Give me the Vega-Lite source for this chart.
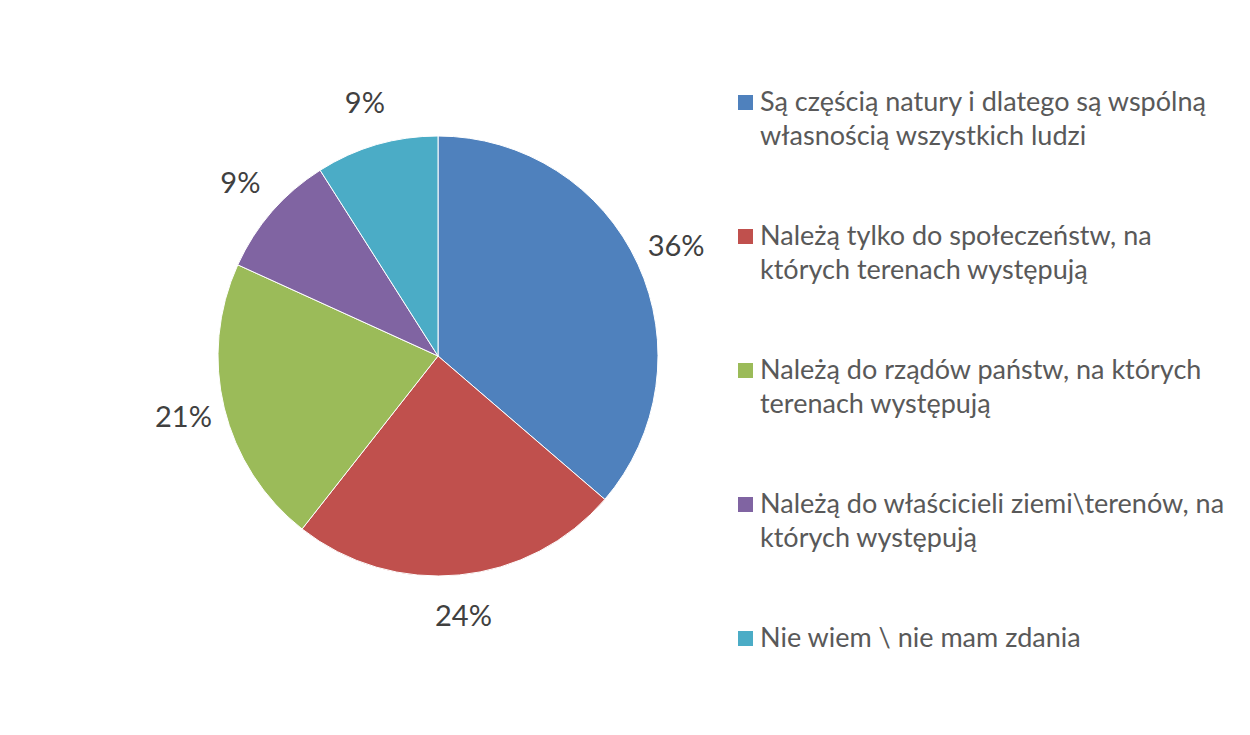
{
  "$schema": "https://vega.github.io/schema/vega-lite/v6.json",
  "autosize": {"type": "none"},
  "width": 862,
  "height": 694,
  "padding": {"left": 7, "top": 9, "right": 381, "bottom": 32},
  "background": "white",
  "config": {"view": {"stroke": null}, "font": "Lato", "style": {"guide-label": {"lineHeight": 34}}},
  "data": {
    "values": [
      {"kategoria": "Są częścią natury i dlatego są wspólną|własnością wszystkich ludzi", "procent": 36.3, "etykieta": "36%", "kolejnosc": 1},
      {"kategoria": "Należą tylko do społeczeństw, na|których terenach występują", "procent": 24.3, "etykieta": "24%", "kolejnosc": 2},
      {"kategoria": "Należą do rządów państw, na których|terenach występują", "procent": 21.2, "etykieta": "21%", "kolejnosc": 3},
      {"kategoria": "Należą do właścicieli ziemi\\terenów, na|których występują", "procent": 9.2, "etykieta": "9%", "kolejnosc": 4},
      {"kategoria": "Nie wiem \\ nie mam zdania", "procent": 9.0, "etykieta": "9%", "kolejnosc": 5}
    ]
  },
  "encoding": {
    "theta": {"field": "procent", "type": "quantitative", "stack": true},
    "order": {"field": "kolejnosc", "type": "quantitative"}
  },
  "layer": [
    {
      "mark": {"type": "arc", "outerRadius": 220, "stroke": "white", "strokeWidth": 1},
      "encoding": {
        "color": {
          "field": "kategoria",
          "type": "nominal",
          "sort": null,
          "scale": {
            "domain": [
              "Są częścią natury i dlatego są wspólną|własnością wszystkich ludzi",
              "Należą tylko do społeczeństw, na|których terenach występują",
              "Należą do rządów państw, na których|terenach występują",
              "Należą do właścicieli ziemi\\terenów, na|których występują",
              "Nie wiem \\ nie mam zdania"
            ],
            "range": ["#4F81BD", "#C0504D", "#9BBB59", "#8064A2", "#4BACC6"]
          },
          "legend": {
            "orient": "none",
            "legendX": 725,
            "legendY": 80,
            "title": null,
            "padding": 0,
            "symbolType": "square",
            "symbolSize": 225,
            "symbolStrokeWidth": 0,
            "labelFont": "Lato",
            "labelFontSize": 27,
            "labelColor": "#595959",
            "labelLimit": 0,
            "labelOffset": 1,
            "labelExpr": "split(datum.label, '|')",
            "rowPadding": 72
          }
        }
      }
    },
    {
      "mark": {"type": "text", "radius": 262, "fontSize": 29, "color": "#404040", "font": "Lato"},
      "encoding": {"text": {"field": "etykieta"}}
    }
  ],
  "title": {
    "text": "Podstawa: N=1000.",
    "anchor": "start",
    "orient": "top",
    "offset": 4,
    "dx": -7,
    "fontSize": 26,
    "fontWeight": "normal",
    "color": "#595959",
    "font": "Lato"
  }
}
